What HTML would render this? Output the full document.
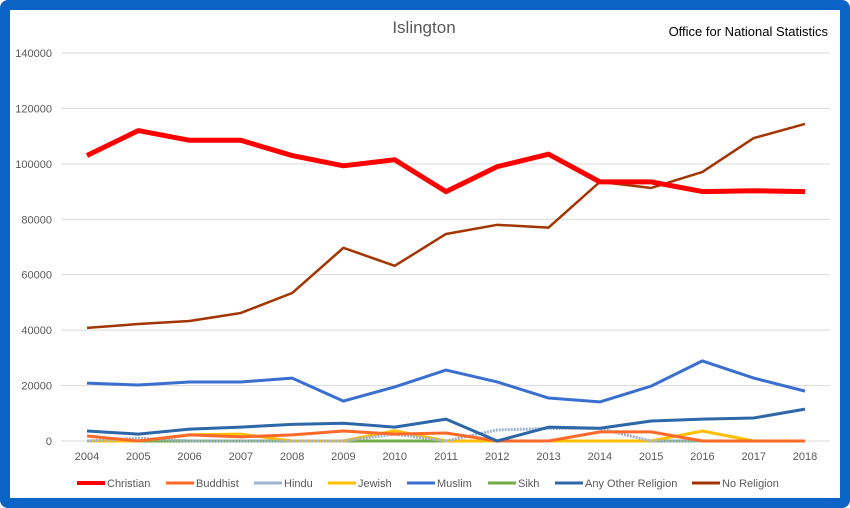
<!DOCTYPE html>
<html><head><meta charset="utf-8"><style>
body{margin:0;background:#fff;font-family:"Liberation Sans",sans-serif}
#frame{position:absolute;left:0;top:0;width:850px;height:508px;box-sizing:border-box;border:10px solid #0b63c5;border-radius:8px;background:#fff}
</style></head><body>
<div id="frame"></div>
<svg id="c" width="850" height="508" style="position:absolute;left:0;top:0"></svg>
<script>
const years=[2004,2005,2006,2007,2008,2009,2010,2011,2012,2013,2014,2015,2016,2017,2018];
const yTicks=[0,20000,40000,60000,80000,100000,120000,140000];
const christian=[103000,112000,108500,108500,103000,99300,101500,90000,99000,103500,93500,93500,90000,90300,90000];
const buddhist=[1800,0,2200,1500,2200,3600,2500,2900,0,0,3300,3300,0,0,0];
const hindu=[0,1000,0,0,0,0,2500,0,4000,4500,4500,0,0,0,0];
const jewish=[0,0,2200,2500,0,0,3700,0,0,0,0,0,3600,0,0];
const muslim=[20900,20200,21300,21300,22700,14400,19500,25600,21300,15500,14100,19800,28900,22700,18000];
const sikh=[0,0,0,0,0,0,0,0,0,0,0,0,0,0,0];
const other=[3600,2500,4300,5000,6000,6400,5000,7900,0,5000,4600,7200,7900,8300,11500];
const noReligion=[40800,42200,43300,46200,53400,69700,63200,74700,78000,77000,93500,91300,97100,109300,114400];
const seriesNames=["Christian","Buddhist","Hindu","Jewish","Muslim","Sikh","Any Other Religion","No Religion"];
const seriesData=[christian,buddhist,hindu,jewish,muslim,sikh,other,noReligion];
const colors=["#ff0000","#ff6a2b","#9fb3cf","#ffc000","#3a6fcf","#70ad47","#2e67a8","#a33500"];
const widths=[5,3,3,3,3,3,3,2.5];
const NS="http://www.w3.org/2000/svg";
const svg=document.getElementById('c');
const x=i=>87+i*(805-87)/(years.length-1);
const y=v=>441-v*(441-53)/140000;
function el(t,a){const e=document.createElementNS(NS,t);for(const k in a)e.setAttribute(k,a[k]);svg.appendChild(e);return e;}
yTicks.forEach(v=>{
 const g=el('line',{x1:61,x2:830,y1:y(v),y2:y(v),stroke:'#d9d9d9','stroke-width':1});
 
 
 const t=el('text',{x:52,y:y(v)+4,'text-anchor':'end','font-size':11,fill:'#595959'});t.textContent=v;
 
 
});
years.forEach((yr,i)=>{
 const t=el('text',{x:x(i),y:460,'text-anchor':'middle','font-size':11,fill:'#595959'});t.textContent=yr;
 
 
});
const order=[5,3,2,1,6,4,7,0];
order.forEach(s=>{
 const p=el('polyline',{points:seriesData[s].map((v,i)=>x(i)+','+y(v)).join(' '),fill:'none',stroke:colors[s],'stroke-width':widths[s],'stroke-linejoin':'round'});
 if(s===2)p.setAttribute('stroke-dasharray','2 1');
 
 
});
const lx=[77,166,254,328,407,488,555,692];
seriesNames.forEach((n,s)=>{
 const l=el('line',{x1:lx[s],x2:lx[s]+28,y1:483,y2:483,stroke:colors[s],'stroke-width':s===0?4:3});
 
 
 const t=el('text',{x:lx[s]+30,y:487,'font-size':11,fill:'#595959'});t.textContent=n;
 
 
});
const title=el('text',{x:424,y:33,'text-anchor':'middle','font-size':17,fill:'#595959'});title.textContent='Islington';


const src=el('text',{x:828,y:36,'text-anchor':'end','font-size':13,fill:'#000'});src.textContent='Office for National Statistics';


</script>
</body></html>
